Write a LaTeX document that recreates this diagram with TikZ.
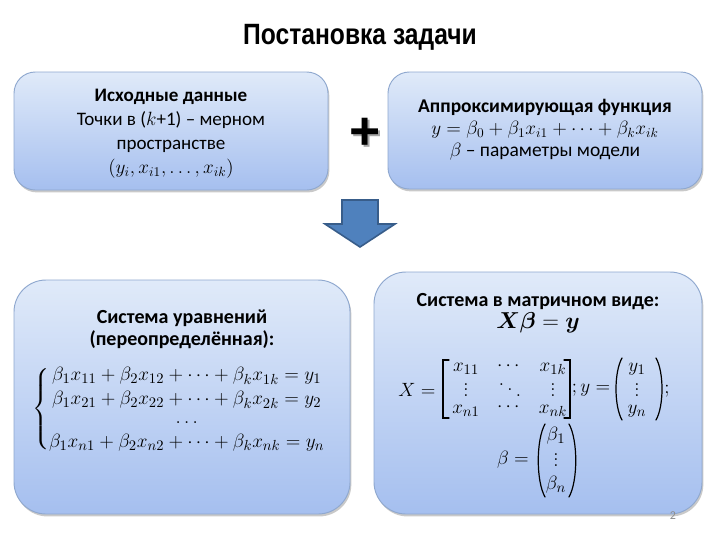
\documentclass[tikz,border=0pt]{standalone}
\usepackage{amsmath,bm}
\usepackage{fontspec}
\setmainfont{Carlito}
\newfontfamily\titlefont[FakeStretch=0.84]{Liberation Sans}
\newfontfamily\plusfont{Liberation Sans}
\usetikzlibrary{shadows}
\definecolor{boxtop}{HTML}{E0EAF9}
\definecolor{boxbot}{HTML}{A5BFEF}
\definecolor{bordc}{HTML}{8FA8CF}
\definecolor{arrfill}{HTML}{4F81BD}
\definecolor{arrdraw}{HTML}{385D8A}
\newcommand\myvdots{\vbox{\baselineskip4.2pt\lineskiplimit0pt\hbox{$.$}\hbox{$.$}\hbox{$.$}}}
\newcommand\myddots{\mkern1mu\raise8pt\hbox{$.$}\mkern3mu\raise4pt\hbox{$.$}\mkern3mu\hbox{$.$}\mkern1mu}
\tikzset{
  box/.style={rounded corners=#1, draw=bordc, line width=0.7pt,
    top color=boxtop, bottom color=boxbot,
    drop shadow={shadow xshift=1pt, shadow yshift=-1.8pt, opacity=0.35, fill=black!60}},
  txt/.style={align=center, inner sep=0pt, font=\fontsize{14.3}{18}\selectfont},
  txtb/.style={align=center, inner sep=0pt, font=\fontsize{14.6}{16.5}\selectfont},
  bigtxt/.style={align=center, inner sep=0pt, font=\fontsize{15}{16.5}\selectfont},
  mth/.style={inner sep=0pt, font=\fontsize{15.5}{18}\selectfont},
  delim/.style={line width=0.9pt, line cap=round},
}
\begin{document}
\begin{tikzpicture}[x=0.75pt,y=-0.75pt]
\useasboundingbox[fill=white] (0,0) rectangle (720,540);
% title
\node[inner sep=0pt] (title) at (360,37) {\titlefont\bfseries\fontsize{22}{24}\selectfont Постановка задачи};
% boxes
\path[box=16pt] (14,72) rectangle (328,190);
\path[box=16pt] (388,72) rectangle (702,189);
\path[box=24pt] (14,280) rectangle (350,514);
\path[box=24pt] (374,272) rectangle (702,514);
% box 1 text
\node[txt] (t1) at (171,133.5) {\textbf{Исходные данные}\\
Точки в ($k$+1) – мерном\\
пространстве\\
$(y_i,x_{i1},\dots,x_{ik})$};
% box 2 text
\node[txtb] (t2) at (545,130) {\textbf{Аппроксимирующая функция}\\
$y=\beta_0+\beta_1x_{i1}+\dots+\beta_kx_{ik}$\\
$\beta$ – параметры модели};
% plus
\node[inner sep=0pt, text=black!35] at (367,135.5) {\plusfont\bfseries\fontsize{40}{40}\selectfont +};
\node[inner sep=0pt] (plus) at (365,133.5) {\plusfont\bfseries\fontsize{40}{40}\selectfont +};
% arrow
\filldraw[fill=arrfill, draw=arrdraw, line width=1.2pt, line join=miter]
  (342,200) -- (378,200) -- (378,224) -- (395,224) -- (360,247) -- (325,224) -- (342,224) -- cycle;
% box 3 text
\node[bigtxt] (t3h) at (182,329) {\textbf{Система уравнений}\\\textbf{(переопределённая):}};
\node[inner sep=0pt] (t3m) at (179,409) {\fontsize{15}{18}\selectfont$
\delimiterfactor=800 \delimitershortfall=8pt
\left\{\begin{array}{@{}c@{}}
\beta_1x_{11}+\beta_2x_{12}+\dots+\beta_kx_{1k}=y_1\\
\beta_1x_{21}+\beta_2x_{22}+\dots+\beta_kx_{2k}=y_2\\[-4pt]
\dots\\
\beta_1x_{n1}+\beta_2x_{n2}+\dots+\beta_kx_{nk}=y_n
\end{array}\right.$};
% box 4 text
\node[bigtxt] (t4h) at (538,313) {\textbf{Система в матричном виде:}\\{\fontsize{16}{16}\selectfont$\bm{X\beta}=\bm{y}$}};
% X = [ ... ]
\node[mth] (Xeq) at (417,390) {$X=$};
\node[mth] (m11) at (466,369) {$x_{11}$};
\node[mth] (m12) at (510,366) {$\cdots$};
\node[mth] (m13) at (553,369) {$x_{1k}$};
\node[mth] (m21) at (466,390) {$\myvdots$};
\node[mth] (m22) at (510,390) {$\myddots$};
\node[mth] (m23) at (553,390) {$\myvdots$};
\node[mth] (m31) at (466,411) {$x_{n1}$};
\node[mth] (m32) at (510,407) {$\cdots$};
\node[mth] (m33) at (553,411) {$x_{nk}$};
\draw[delim] (449,360) -- (443,360) -- (443,418) -- (449,418);
\draw[delim] (564,360) -- (570,360) -- (570,418) -- (564,418);
% ; y = ( ... );
\node[mth] (sy) at (591,390) {$;y=$};
\node[mth] (y1) at (637,369) {$y_1$};
\node[mth] (y2) at (637,390) {$\myvdots$};
\node[mth] (y3) at (637,411) {$y_n$};
\draw[delim] (622,358) .. controls (614,372) and (614,406) .. (622,420);
\draw[delim] (656,358) .. controls (664,372) and (664,406) .. (656,420);
\node[mth] (sc) at (667,391) {$;$};
% beta = ( ... )
\node[mth] (beq) at (513,460) {$\beta=$};
\node[mth] (b1) at (556,436) {$\beta_1$};
\node[mth] (b2) at (556,460) {$\myvdots$};
\node[mth] (b3) at (556,485) {$\beta_n$};
\draw[delim] (545,424) .. controls (536,440) and (536,481) .. (545,497);
\draw[delim] (569,424) .. controls (578,440) and (578,481) .. (569,497);
% page number
\node[inner sep=0pt, text=black!45, font=\fontsize{9}{10}\selectfont] (pg) at (673,516) {2};
\end{tikzpicture}
\end{document}
